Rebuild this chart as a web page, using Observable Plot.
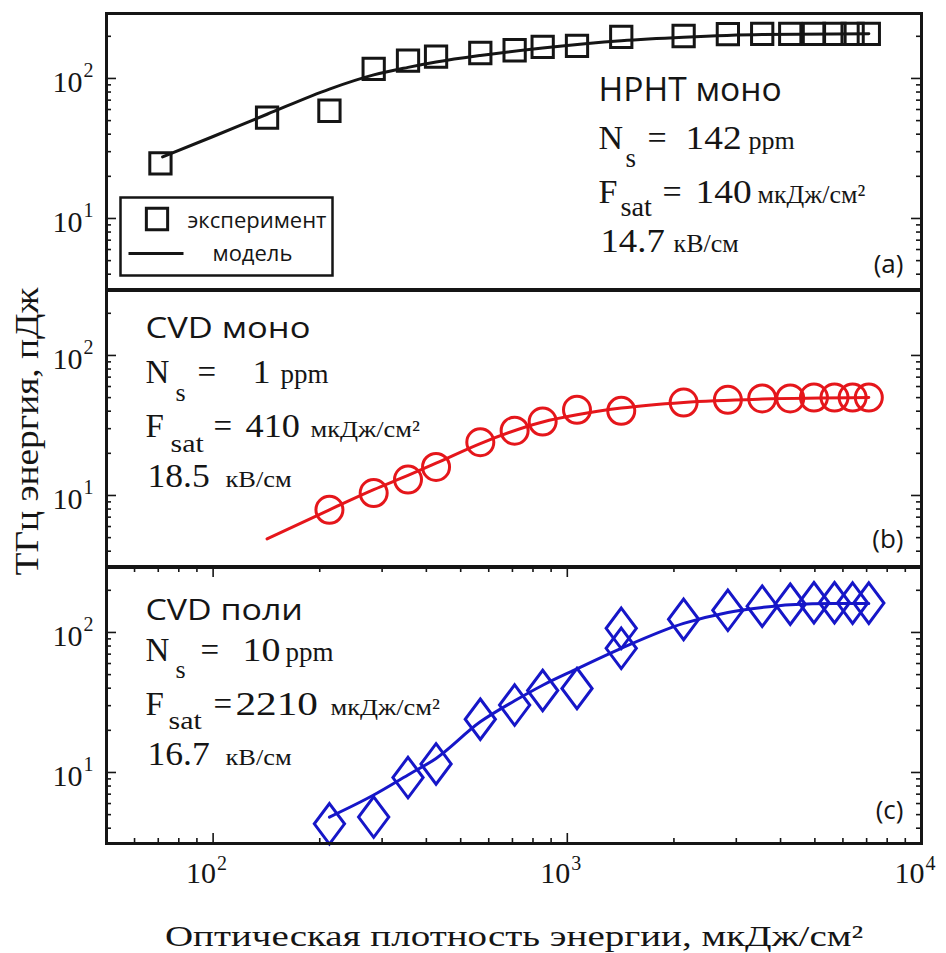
<!DOCTYPE html>
<html>
<head>
<meta charset="utf-8">
<script src="https://cdn.jsdelivr.net/npm/d3@7"></script>
<script src="https://cdn.jsdelivr.net/npm/@observablehq/plot@0.6"></script>
<style>
  html, body { margin: 0; padding: 0; background: #fff; }
  #chart { position: relative; width: 946px; height: 953px; background: #fff; overflow: hidden; }
  #chart > * { position: absolute; left: 0; }
</style>
</head>
<body>
<div id="chart"></div>
<script>
// ---------------- data ----------------
const panelNames = ["HPHT моно", "CVD моно", "CVD поли"];
const panelTags = ["(a)", "(b)", "(c)"];
const nsValues = [142, 1, 10];          // ppm
const fsatValues = [140, 410, 2210];    // мкДж/см²
const fieldValues = ["14.7", "18.5", "16.7"]; // кВ/см

// panel (a) HPHT mono: squares + model
const hphtX = [71, 142, 213, 284, 355, 426, 568, 710, 852, 1065, 1420, 2130, 2840, 3550, 4260, 4970, 5680, 6390, 7100];
const hphtY = [24.7, 52.6, 58.8, 117, 134, 143, 152, 159, 168, 171, 198, 201, 207, 208, 208, 208, 208, 208, 208];
const hphtModelX = [72, 100, 142, 213, 284, 355, 426, 568, 852, 1420, 2130, 3550, 7100];
const hphtModelY = [27.5, 38.5, 55.5, 84, 106, 120, 131, 146, 165, 186, 197, 206, 209];

// panel (b) CVD mono: circles + model
const cvdMonoX = [213, 284, 355, 426, 568, 710, 852, 1065, 1420, 2130, 2840, 3550, 4260, 4970, 5680, 6390, 7100];
const cvdMonoY = [7.9, 10.4, 13.0, 16.0, 24.0, 29.0, 33.7, 40.9, 40.2, 46.1, 48.2, 49.3, 49.3, 50, 50, 50, 50];
const cvdMonoModelX = [142, 213, 284, 355, 426, 568, 852, 1065, 1420, 2130, 3550, 7100];
const cvdMonoModelY = [4.9, 7.9, 11.0, 13.9, 17.0, 23.5, 33.5, 37.7, 42.1, 46.2, 48.8, 50.1];

// panel (c) CVD poly: diamonds + model
const cvdPolyX = [213, 284, 355, 426, 568, 710, 852, 1065, 1420, 1420, 2130, 2840, 3550, 4260, 4970, 5680, 6390, 7100];
const cvdPolyY = [4.3, 4.8, 9.2, 11.5, 24.0, 30.3, 38.5, 39.8, 107, 77, 124, 144, 154, 159, 163, 163, 162, 162];
const cvdPolyModelX = [213, 284, 355, 426, 568, 710, 852, 1065, 1420, 2130, 2840, 3550, 4260, 5680, 7100];
const cvdPolyModelY = [4.8, 6.9, 9.6, 12.6, 23.0, 32.5, 42, 55, 77, 116, 139, 151, 158, 161, 161];

// axes
const xDomain = [50, 10000];
const yDomain = [3.11, 291];
const xMajor = [100, 1000, 10000];
const xMinor = [60, 70, 80, 90, 200, 300, 400, 500, 600, 700, 800, 900, 2000, 3000, 4000, 5000, 6000, 7000, 8000, 9000];
const yMajor = [10, 100];
const yMinor = [4, 5, 6, 7, 8, 9, 20, 30, 40, 50, 60, 70, 80, 90, 200];
const xTitle = "Оптическая плотность энергии, мкДж/см²";
const yTitle = "ТГц энергия, пДж";
const legendLabels = ["эксперимент", "модель"];

// ---------------- layout / style ----------------
const W = 946, ML = 106, MR = 25, PH = 276, PW = W - ML - MR;
const SERIF = "'Liberation Serif', 'Times New Roman', serif";
const SANS = "'Open Sans', sans-serif";
const INK = "#151515";
const RED = "#e5161b";
const BLUE = "#1616c8";

const zip = (xs, ys) => xs.map((x, i) => ({x, y: ys[i]}));

const tallDiamond = {
  draw(ctx, size) {
    const r = Math.sqrt(size / Math.PI);
    const h = r * 1.5, w = r * 1.12;
    ctx.moveTo(0, -h); ctx.lineTo(w, 0); ctx.lineTo(0, h); ctx.lineTo(-w, 0); ctx.closePath();
  }
};

// text helper; horizontal stretch factor is carried in a per-text aria-label channel
function label(str, dx, dy, {size = 33, font = SERIF, anchor = "start", sx = 1, fill = INK, frameAnchor = "top-left", rotate} = {}) {
  const o = {frameAnchor, dx, dy, text: d => d, fontSize: size, fontFamily: font, textAnchor: anchor, lineAnchor: "bottom", fill, ariaLabel: () => "sx:" + sx};
  if (rotate !== undefined) o.rotate = rotate;
  return Plot.text([str], o);
}

function yAxisMarks() {
  const t = {y: d => d, stroke: INK, strokeWidth: 1.6};
  return [
    Plot.tickY(yMinor, {...t, insetRight: PW - 5}),
    Plot.tickY(yMajor, {...t, insetRight: PW - 10}),
    Plot.tickY(yMinor, {...t, insetLeft: PW - 5}),
    Plot.tickY(yMajor, {...t, insetLeft: PW - 10}),
    Plot.text(yMajor, {y: d => d, frameAnchor: "left", text: () => "10", textAnchor: "end", dx: -24, dy: 4, fontSize: 30, fontFamily: SERIF, fill: INK}),
    Plot.text(yMajor, {y: d => d, frameAnchor: "left", text: d => String(Math.round(Math.log10(d))), textAnchor: "start", dx: -23, dy: -8, fontSize: 20, fontFamily: SERIF, fill: INK})
  ];
}

function xAxisMarks() {
  const t = {x: d => d, stroke: INK, strokeWidth: 1.6};
  return [
    Plot.tickX(xMinor, {...t, insetTop: PH - 5}),
    Plot.tickX(xMajor, {...t, insetTop: PH - 10}),
    Plot.tickX(xMinor, {...t, insetBottom: PH - 5}),
    Plot.tickX(xMajor, {...t, insetBottom: PH - 10}),
    Plot.text(xMajor, {x: d => d, frameAnchor: "bottom", text: () => "10", textAnchor: "end", dx: 3, dy: 39, fontSize: 30, fontFamily: SERIF, fill: INK}),
    Plot.text(xMajor, {x: d => d, frameAnchor: "bottom", text: d => String(Math.round(Math.log10(d))), textAnchor: "start", dx: 4, dy: 26, fontSize: 20, fontFamily: SERIF, fill: INK})
  ];
}

function annotation(i, p) {
  return [
    label(panelNames[i], p.x0, p.nameDy, {size: p.nameSize, font: SANS, sx: p.nameSx}),
    label("N", p.x0, p.r1, {size: p.big}),
    label("s", p.sDx, p.r1 + p.subDy, {size: p.sub}),
    label("=", p.eq1, p.r1, {size: p.big}),
    label(String(nsValues[i]), p.ns, p.r1, {size: p.big, sx: p.numSx}),
    label("ppm", p.ppm, p.r1, {size: p.ppmSize}),
    label("F", p.x0, p.r2, {size: p.big}),
    label("sat", p.satDx, p.r2 + p.satDy, {size: p.sub, sx: p.satSx}),
    label("=", p.eq2, p.r2, {size: p.big}),
    label(String(fsatValues[i]), p.fs, p.r2, {size: p.big, sx: p.fsSx}),
    label("мкДж/см²", p.unit1, p.r2, {size: p.small, sx: p.unitSx}),
    label(fieldValues[i], p.x0 + 2, p.r3, {size: p.big, sx: 1.08}),
    label("кВ/см", p.unit2, p.r3, {size: p.small, sx: p.unitSx}),
    label(panelTags[i], 797, p.tagDy, {size: 26, font: SANS, anchor: "end"})
  ];
}

function panel({top, marginTop = 0, marginBottom = 0, marks}) {
  const el = Plot.plot({
    width: W,
    height: PH + marginTop + marginBottom,
    marginLeft: ML, marginRight: MR, marginTop, marginBottom,
    x: {type: "log", domain: xDomain, axis: null},
    y: {type: "log", domain: yDomain, axis: null},
    style: {background: "transparent", overflow: "visible"},
    marks
  });
  const svg = el.tagName.toLowerCase() === "svg" ? el : el.querySelector("svg");
  svg.style.overflow = "visible";
  svg.style.background = "transparent";
  svg.querySelectorAll('[aria-label^="sx:"]').forEach(t => {
    const s = +t.getAttribute("aria-label").slice(3);
    const texts = t.tagName.toLowerCase() === "text" ? [t] : Array.from(t.querySelectorAll("text"));
    if (s !== 1) texts.forEach(tx => {
      tx.setAttribute("transform", (tx.getAttribute("transform") || "") + ` scale(${s},1)`);
    });
    t.removeAttribute("aria-label");
  });
  el.style.top = top + "px";
  document.getElementById("chart").appendChild(el);
  return el;
}

const frame = Plot.frame({stroke: INK, strokeWidth: 3});

// ---------- panel (a) ----------
panel({
  top: 0, marginTop: 13,
  marks: [
    ...yAxisMarks(),
    Plot.line(zip(hphtModelX, hphtModelY), {x: "x", y: "y", stroke: INK, strokeWidth: 3, curve: "monotone-x"}),
    Plot.dot(zip(hphtX, hphtY), {x: "x", y: "y", symbol: "square", r: 12, stroke: INK, strokeWidth: 3, fill: "none"}),
    ...annotation(0, {x0: 492, nameDy: 87, nameSize: 32, nameSx: 1.05, big: 34, sub: 27, small: 26, ppmSize: 26,
      r1: 135, r2: 189, r3: 238, subDy: 18, satDy: 13, sDx: 519, eq1: 541, ns: 579, numSx: 1.1, ppm: 642,
      satDx: 514, satSx: 1.05, eq2: 556, fs: 589, fsSx: 1.1, unit1: 651, unit2: 567, unitSx: 1.0, tagDy: 259}),
    // legend
    Plot.frame({insetLeft: 14, insetRight: PW - 226, insetTop: 184, insetBottom: PH - 262, fill: "white", stroke: INK, strokeWidth: 2.5}),
    Plot.dot([0], {frameAnchor: "top-left", dx: 50.5, dy: 205.5, symbol: "square", r: 12, stroke: INK, strokeWidth: 3, fill: "none"}),
    Plot.frame({insetLeft: 22, insetRight: PW - 77, insetTop: 238.5, insetBottom: PH - 241.5, fill: INK, stroke: "none"}),
    label(legendLabels[0], 81, 214, {size: 22, font: SANS}),
    label(legendLabels[1], 106, 247, {size: 22, font: SANS}),
    frame
  ]
});

// ---------- panel (b) ----------
panel({
  top: 290,
  marks: [
    ...yAxisMarks(),
    Plot.line(zip(cvdMonoModelX, cvdMonoModelY), {x: "x", y: "y", stroke: RED, strokeWidth: 3, curve: "monotone-x"}),
    Plot.dot(zip(cvdMonoX, cvdMonoY), {x: "x", y: "y", symbol: "circle", r: 13.5, stroke: RED, strokeWidth: 3, fill: "none"}),
    ...annotation(1, {x0: 39, nameDy: 47, nameSize: 29, nameSx: 1.19, big: 33, sub: 26, small: 24, ppmSize: 27,
      r1: 92, r2: 146, r3: 196, subDy: 18, satDy: 15, sDx: 69, eq1: 91, ns: 146, numSx: 1.1, ppm: 174,
      satDx: 64, satSx: 1.15, eq2: 107, fs: 139, fsSx: 1.1, unit1: 204, unit2: 119, unitSx: 1.1, tagDy: 257}),
    label(yTitle, -69, 3, {size: 34, frameAnchor: "left", anchor: "middle", rotate: -90, sx: 1.1}),
    frame
  ]
});

// ---------- panel (c) ----------
panel({
  top: 567, marginBottom: 110,
  marks: [
    ...yAxisMarks(),
    ...xAxisMarks(),
    Plot.line(zip(cvdPolyModelX, cvdPolyModelY), {x: "x", y: "y", stroke: BLUE, strokeWidth: 3, curve: "monotone-x"}),
    Plot.dot(zip(cvdPolyX, cvdPolyY), {x: "x", y: "y", symbol: tallDiamond, r: 13.5, stroke: BLUE, strokeWidth: 3, fill: "none"}),
    ...annotation(2, {x0: 39, nameDy: 52, nameSize: 29, nameSx: 1.17, big: 33, sub: 26, small: 24, ppmSize: 27,
      r1: 93, r2: 147, r3: 197, subDy: 17, satDy: 14, sDx: 69, eq1: 94, ns: 136, numSx: 1.15, ppm: 179,
      satDx: 62, satSx: 1.15, eq2: 107, fs: 129, fsSx: 1.25, unit1: 224, unit2: 119, unitSx: 1.1, tagDy: 251}),
    label(xTitle, 0, 102, {size: 30, frameAnchor: "bottom", anchor: "middle", sx: 1.3}),
    frame
  ]
});
</script>
</body>
</html>
